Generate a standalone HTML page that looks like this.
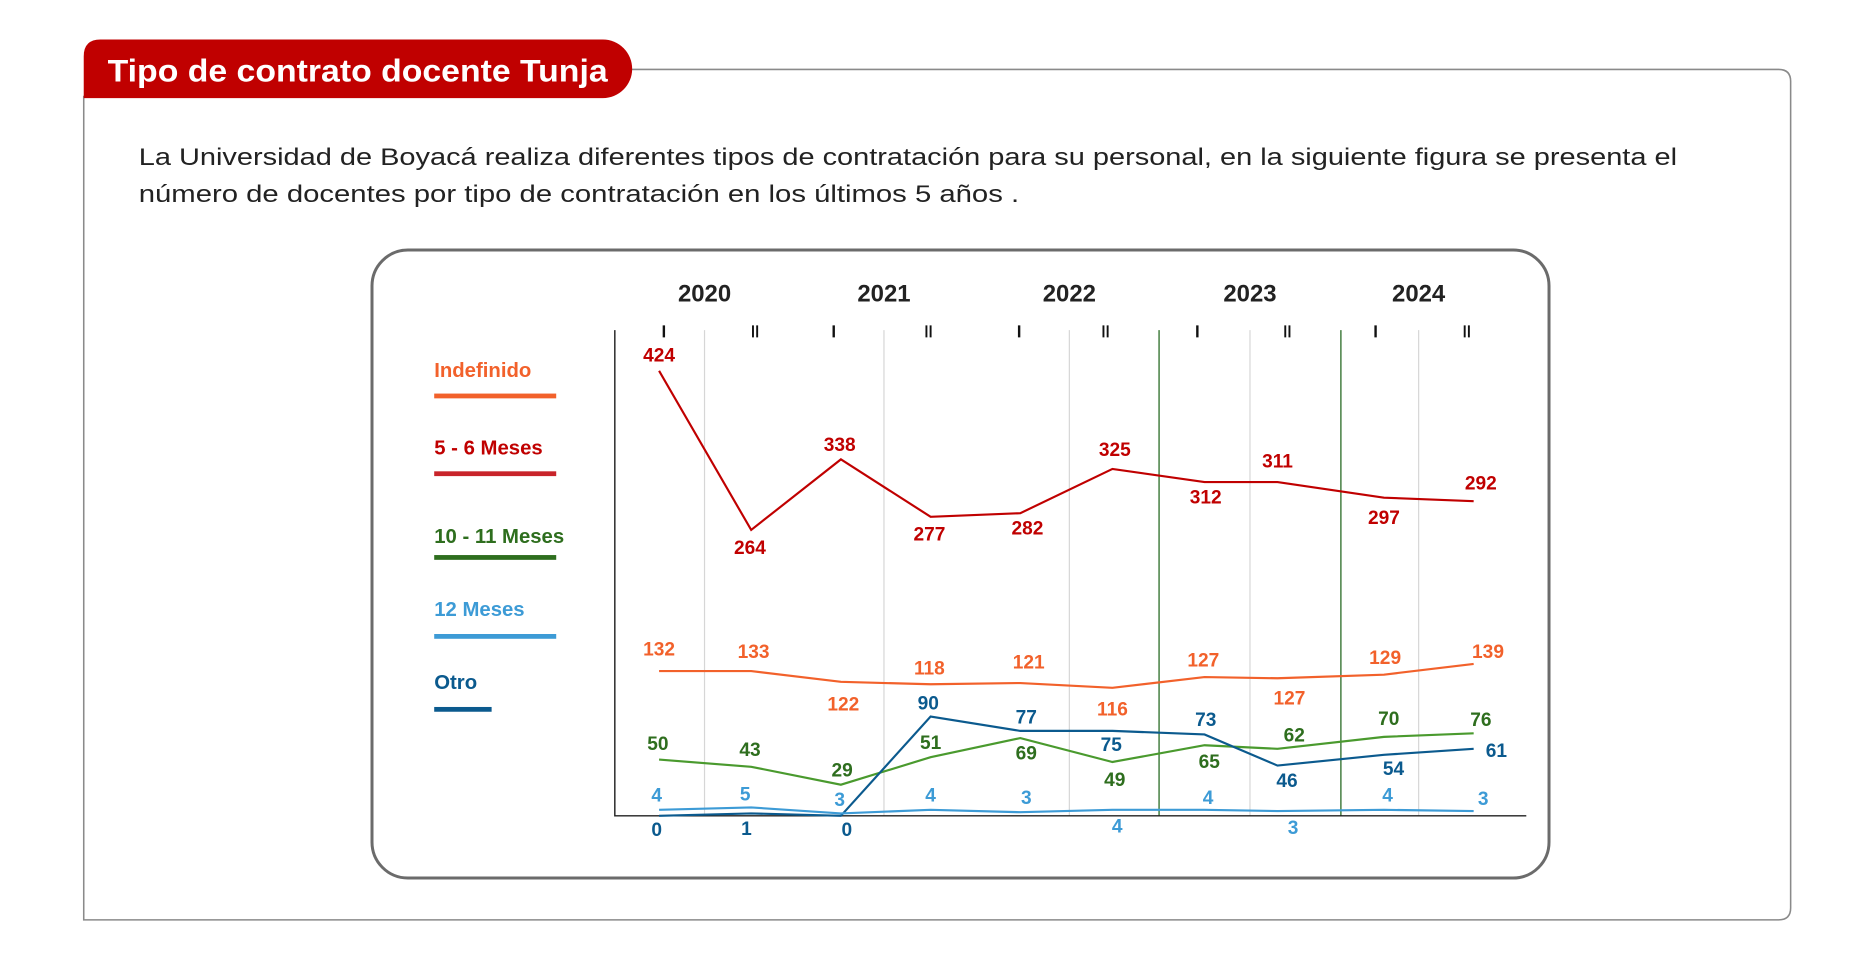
<!DOCTYPE html>
<html><head><meta charset="utf-8"><style>
html,body{margin:0;padding:0;background:#fff;}
svg{display:block;}
text{font-family:"Liberation Sans",sans-serif;}
</style></head><body>
<svg width="1866" height="957" viewBox="0 0 1560 800" xmlns="http://www.w3.org/2000/svg">
<rect width="1560" height="800" fill="#fff"/>
<path d="M528 58 H1487 Q1497 58 1497 68 V759 Q1497 769 1487 769 H70 V80" fill="none" stroke="#8a8a8a" stroke-width="1.3"/>
<path d="M84 33 H504 A24.5 24.5 0 0 1 504 82 H70 V47 Q70 33 84 33 Z" fill="#c00000"/>
<text x="90" y="68" font-size="26" font-weight="bold" fill="#fff" textLength="418" lengthAdjust="spacingAndGlyphs">Tipo de contrato docente Tunja</text>
<text x="116" y="138" font-size="20" fill="#222" textLength="1286" lengthAdjust="spacingAndGlyphs">La Universidad de Boyacá realiza diferentes tipos de contratación para su personal, en  la siguiente figura se presenta el</text>
<text x="116" y="169" font-size="20" fill="#222" textLength="736" lengthAdjust="spacingAndGlyphs">número de docentes por tipo de contratación en los  últimos 5 años .</text>
<rect x="311" y="209" width="984" height="525" rx="30" fill="none" stroke="#6b6b6b" stroke-width="2.5"/>
<g font-size="20" font-weight="bold" fill="#222" text-anchor="middle">
<text x="589" y="252">2020</text><text x="739" y="252">2021</text><text x="894" y="252">2022</text><text x="1045" y="252">2023</text><text x="1186" y="252">2024</text>
</g>
<g stroke="#111" stroke-width="2">
<path d="M555 272V282M697 272V282M852 272V282M1001 272V282M1150 272V282"/>
<path d="M629.5 272V282M633 272V282M774.5 272V282M778 272V282M922.5 272V282M926 272V282M1074.5 272V282M1078 272V282M1224.5 272V282M1228 272V282" stroke-width="1.6"/>
</g>
<g stroke="#d6d6d6" stroke-width="1">
<path d="M589 276V682M739 276V682M894 276V682M1045 276V682M1186 276V682"/>
</g>
<g stroke="#3d7a3a" stroke-width="1.2"><path d="M969 276V682M1121 276V682"/></g>
<path d="M514 276V682H1276" fill="none" stroke="#222" stroke-width="1.2"/>
<g fill="none" stroke-width="1.8">
<polyline stroke="#c00000" points="551,310 628,443 703,384 778,432 853,429 930,392 1007,403 1068,403 1157,416 1232,419"/>
<polyline stroke="#f2612b" points="551,561 628,561 703,570 778,572 853,571 930,575 1007,566 1068,567 1157,564 1232,555"/>
<polyline stroke="#4a9a2e" points="551,635 628,641 703,656 778,633 853,617 930,637 1007,623 1068,626 1157,616 1232,613"/>
<polyline stroke="#0b5a8e" points="551,682 628,680 703,682 778,599 853,611 930,611 1007,614 1068,640 1157,631 1232,626"/>
<polyline stroke="#3d9bd6" points="551,677 628,675 703,680 778,677 853,679 930,677 1007,677 1068,678 1157,677 1232,678"/>
</g>
<g font-size="16" font-weight="bold" text-anchor="middle">
<g fill="#c00000">
<text x="551" y="302">424</text><text x="627" y="463">264</text><text x="702" y="377">338</text><text x="777" y="452">277</text><text x="859" y="447">282</text><text x="932" y="381">325</text><text x="1008" y="421">312</text><text x="1068" y="391">311</text><text x="1157" y="438">297</text><text x="1238" y="409">292</text>
</g>
<g fill="#f2612b">
<text x="551" y="548">132</text><text x="630" y="550">133</text><text x="705" y="594">122</text><text x="777" y="564">118</text><text x="860" y="559">121</text><text x="930" y="598">116</text><text x="1006" y="557">127</text><text x="1078" y="589">127</text><text x="1158" y="555">129</text><text x="1244" y="550">139</text>
</g>
<g fill="#0b5a8e">
<text x="549" y="699">0</text><text x="624" y="698">1</text><text x="708" y="699">0</text><text x="776" y="593">90</text><text x="858" y="605">77</text><text x="929" y="628">75</text><text x="1008" y="607">73</text><text x="1076" y="658">46</text><text x="1165" y="648">54</text><text x="1251" y="633">61</text>
</g>
<g fill="#2e6e1e">
<text x="550" y="627">50</text><text x="627" y="632">43</text><text x="704" y="649">29</text><text x="778" y="626">51</text><text x="858" y="635">69</text><text x="932" y="657">49</text><text x="1011" y="642">65</text><text x="1082" y="620">62</text><text x="1161" y="606">70</text><text x="1238" y="607">76</text>
</g>
<g fill="#3d9bd6">
<text x="549" y="670">4</text><text x="623" y="669">5</text><text x="702" y="674">3</text><text x="778" y="670">4</text><text x="858" y="672">3</text><text x="934" y="696">4</text><text x="1010" y="672">4</text><text x="1081" y="697">3</text><text x="1160" y="670">4</text><text x="1240" y="673">3</text>
</g>
</g>
<g font-size="17" font-weight="bold">
<text x="363" y="315" fill="#f2612b">Indefinido</text>
<rect x="363" y="329" width="102" height="4" fill="#f2612b"/>
<text x="363" y="380" fill="#c00000">5 - 6 Meses</text>
<rect x="363" y="394" width="102" height="4" fill="#c8242a"/>
<text x="363" y="454" fill="#2e6e1e">10 - 11 Meses</text>
<rect x="363" y="464" width="102" height="4" fill="#2e6e1e"/>
<text x="363" y="515" fill="#3d9bd6">12 Meses</text>
<rect x="363" y="530" width="102" height="4" fill="#3d9bd6"/>
<text x="363" y="576" fill="#0b5a8e">Otro</text>
<rect x="363" y="591" width="48" height="4" fill="#0b5a8e"/>
</g>
</svg>
</body></html>
